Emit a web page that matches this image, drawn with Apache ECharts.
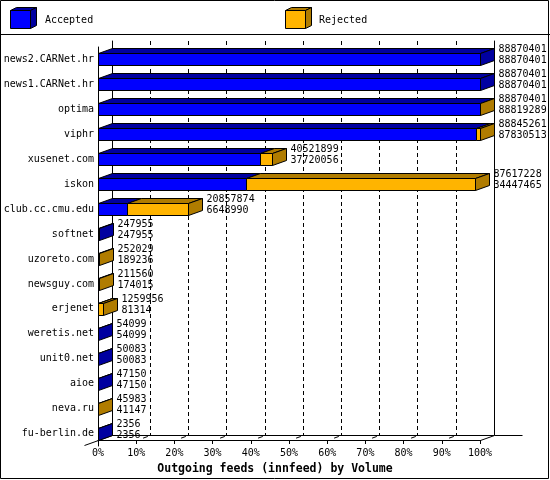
<!DOCTYPE html>
<html>
<head>
<meta charset="utf-8">
<script src="https://cdn.jsdelivr.net/npm/echarts@6/dist/echarts.min.js"></script>
<style>
  html, body { margin: 0; padding: 0; background: #fff; }
  #chart { width: 550px; height: 480px; }
</style>
</head>
<body>
<div id="chart"></div>
<script>
// innfeed outgoing feeds: offered (first label) and accepted (second label) articles per peer
const hosts = ['news2.CARNet.hr', 'news1.CARNet.hr', 'optima', 'viphr', 'xusenet.com', 'iskon',
  'club.cc.cmu.edu', 'softnet', 'uzoreto.com', 'newsguy.com', 'erjenet', 'weretis.net',
  'unit0.net', 'aioe', 'neva.ru', 'fu-berlin.de'];
const offered = [88870401, 88870401, 88870401, 88845261, 40521899, 87617228, 20857874, 247955,
  252029, 211560, 1259956, 54099, 50083, 47150, 45983, 2356];
const accepted = [88870401, 88870401, 88819289, 87830513, 37720056, 34447465, 6648990, 247955,
  189236, 174015, 81314, 54099, 50083, 47150, 41147, 2356];
const seriesNames = ['Accepted', 'Rejected'];
const pctMin = 0, pctMax = 100, pctStep = 10;

// styling
const FONT = '"DejaVu Sans Mono", monospace';
const BLUE = '#0000ff', BLUE_DARK = '#0000a0';
const ORANGE = '#ffb400', ORANGE_DARK = '#b07c00';
const DX = 14, DY = 5;      // depth offset of the 3D look
const H = 12;              // bar front face height
const px = v => Math.round(v) + 0.5;

const maxOffered = Math.max(...offered);
const rows = hosts.map((h, i) => [i, accepted[i] / maxOffered * 100, offered[i] / maxOffered * 100, offered[i], accepted[i]]);

function renderBar(params, api) {
  const i = api.value(0), a = api.value(1), t = api.value(2);
  const p0 = api.coord([0, i]), pa = api.coord([a, i]), pt = api.coord([t, i]);
  const x0 = px(p0[0]), xa = px(pa[0]), xt = px(pt[0]);
  const yc = Math.round(p0[1]);
  const top = yc - H / 2 + 0.5, bot = yc + H / 2 + 0.5;
  const stroke = { stroke: '#000', lineWidth: 1 };
  const kids = [];
  const face = (xl, xr, front, dark) => {
    if (xr > xl) {
      kids.push({ type: 'rect', shape: { x: xl, y: top, width: xr - xl, height: bot - top },
        style: Object.assign({ fill: front }, stroke) });
    }
    kids.push({ type: 'polygon', shape: { points: [[xl, top], [xr, top], [xr + DX, top - DY], [xl + DX, top - DY]] },
      style: Object.assign({ fill: dark }, stroke) });
  };
  face(x0, xa, BLUE, BLUE_DARK);
  if (xt > xa) face(xa, xt, ORANGE, ORANGE_DARK);
  const sideColor = (api.value(3) > api.value(4)) ? ORANGE_DARK : BLUE_DARK;
  kids.push({ type: 'polygon', shape: { points: [[xt, top], [xt + DX, top - DY], [xt + DX, bot - DY], [xt, bot]] },
    style: Object.assign({ fill: sideColor }, stroke) });
  const tx = xt + DX + 4;
  kids.push({ type: 'text', style: { x: tx, y: yc - 9.5, text: String(api.value(3)), font: '10px ' + FONT, fill: '#000', verticalAlign: 'middle', align: 'left' } });
  kids.push({ type: 'text', style: { x: tx, y: yc + 1.5, text: String(api.value(4)), font: '10px ' + FONT, fill: '#000', verticalAlign: 'middle', align: 'left' } });
  return { type: 'group', children: kids };
}

const chart = echarts.init(document.getElementById('chart'), null, { renderer: 'canvas' });
chart.setOption({
  animation: false,
  backgroundColor: '#fff',
  textStyle: { fontFamily: FONT },
  grid: [
    { left: 98, right: 70, top: 47, bottom: 34 },          // front plane
    { left: 98 + DX, right: 70 - DX, top: 41, bottom: 40 + DY } // back plane
  ],
  xAxis: [
    {
      gridIndex: 0, type: 'value', min: pctMin, max: pctMax, interval: pctStep, offset: -6,
      axisLine: { show: true, onZero: false, lineStyle: { color: '#000', width: 1 } },
      axisTick: { show: true, length: 4, lineStyle: { color: '#000' } },
      axisLabel: { formatter: '{value}%', fontSize: 10, fontFamily: FONT, color: '#000', margin: 8 },
      splitLine: { show: false },
      name: 'Outgoing feeds (innfeed) by Volume', nameLocation: 'middle', nameGap: 22,
      nameTextStyle: { fontSize: 11.5, fontWeight: 'bold', fontFamily: FONT, color: '#000', padding: [0, 28, 0, 0] }
    },
    {
      gridIndex: 1, type: 'value', min: pctMin, max: pctMax, interval: pctStep,
      axisLine: { show: true, onZero: false, lineStyle: { color: '#000', width: 1 } },
      axisTick: { show: false }, axisLabel: { show: false },
      splitLine: { show: true, lineStyle: { color: '#000', width: 1, type: [4, 3] } }
    }
  ],
  yAxis: [
    {
      gridIndex: 0, type: 'category', data: hosts, inverse: true,
      axisLine: { show: true, lineStyle: { color: '#000', width: 1 } },
      axisTick: { show: false },
      axisLabel: { fontSize: 10, fontFamily: FONT, color: '#000', margin: 4 }
    },
    {
      gridIndex: 1, type: 'value', min: 0, max: 1, position: 'left',
      axisLine: { show: true, onZero: false, lineStyle: { color: '#000', width: 1 } },
      axisTick: { show: false }, axisLabel: { show: false }, splitLine: { show: false }
    },
    {
      gridIndex: 1, type: 'value', min: 0, max: 1, position: 'right',
      axisLine: { show: true, onZero: false, lineStyle: { color: '#000', width: 1 } },
      axisTick: { show: false }, axisLabel: { show: false }, splitLine: { show: false }
    }
  ],
  series: [{
    type: 'custom', name: seriesNames.join('/'), xAxisIndex: 0, yAxisIndex: 0,
    renderItem: renderBar, data: rows, encode: { x: [1, 2], y: 0 }, z: 10
  }]
});

// floor edges, legend and frame
const floorY = 480 - 34 - 6 + 0.5;
const g = [];
const line = (x1, y1, x2, y2, dash) => g.push({ type: 'line', z: 5, silent: true,
  shape: { x1, y1, x2, y2 }, style: { stroke: '#000', lineWidth: 1, lineDash: dash || null } });
for (let v = pctMin; v <= pctMax; v += pctStep) {
  const x = px(chart.convertToPixel({ xAxisIndex: 0 }, v));
  if (v === pctMin) line(x - DX, floorY + DY, x + DX, floorY - DY);
  else if (v === pctMax) { line(x, floorY, x + DX, floorY - DY); line(x + DX, floorY - DY, x + DX * 3, floorY - DY); }
  else line(x, floorY, x + DX, floorY - DY, [0, 7, 5, 100]);
}
// legend cubes
const cube = (x, y, front, dark) => {
  g.push({ type: 'polygon', z: 5, shape: { points: [[x, y], [x + 20, y], [x + 26, y - 3], [x + 6, y - 3]] }, style: { fill: dark, stroke: '#000', lineWidth: 1 } });
  g.push({ type: 'polygon', z: 5, shape: { points: [[x + 20, y], [x + 26, y - 3], [x + 26, y + 15], [x + 20, y + 18]] }, style: { fill: dark, stroke: '#000', lineWidth: 1 } });
  g.push({ type: 'rect', z: 5, shape: { x, y, width: 20, height: 18 }, style: { fill: front, stroke: '#000', lineWidth: 1 } });
};
cube(10.5, 10.5, BLUE, BLUE_DARK);
cube(285.5, 10.5, ORANGE, ORANGE_DARK);
g.push({ type: 'text', z: 5, style: { x: 45, y: 20, text: seriesNames[0], font: '10px ' + FONT, fill: '#000', verticalAlign: 'middle' } });
g.push({ type: 'text', z: 5, style: { x: 319, y: 20, text: seriesNames[1], font: '10px ' + FONT, fill: '#000', verticalAlign: 'middle' } });
line(0, 34.5, 550, 34.5);
g.push({ type: 'rect', z: 5, silent: true, shape: { x: 0.5, y: 0.5, width: 548, height: 478 }, style: { fill: null, stroke: '#000', lineWidth: 1 } });
chart.setOption({ graphic: g });
</script>
</body>
</html>
